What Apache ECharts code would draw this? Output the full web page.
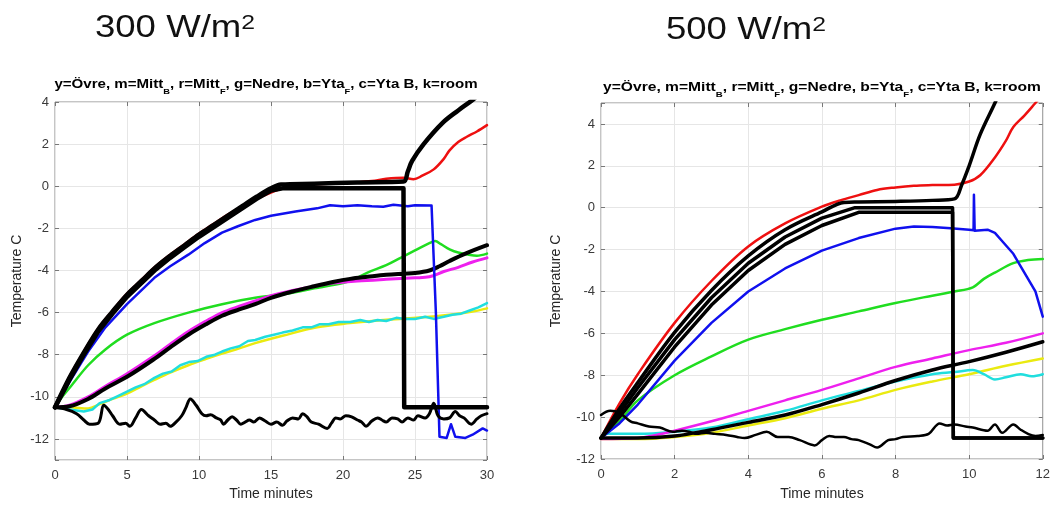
<!DOCTYPE html>
<html><head><meta charset="utf-8">
<script src="https://cdn.jsdelivr.net/npm/echarts@6/dist/echarts.min.js"></script>
<style>html,body{margin:0;padding:0;background:#fff;}#c{width:1053px;height:506px;}</style>
</head><body><div id="c"></div>
<script>
// ---------- tick / axis settings ----------
const L_xTicks = [0, 5, 10, 15, 20, 25, 30];
const L_yRange = [-13, 4];
const R_xTicks = [0, 2, 4, 6, 8, 10, 12];
const R_yRange = [-12, 5];

// ---------- LEFT: 300 W/m2 ----------
const L_yellow = [[0,-10.5],[1,-10.5],[2.3,-10.55],[3.1,-10.35],[4,-10.1],[5,-9.85],[6,-9.5],[6.9,-9.2],[8,-8.85],[9.26,-8.5],[10.5,-8.2],[11.6,-7.95],[12.8,-7.7],[13.9,-7.45],[15.8,-7.1],[18.2,-6.7],[20.5,-6.5],[22.8,-6.35],[25.1,-6.25],[27.4,-6.1],[29,-5.95],[30,-5.8]];
const L_cyan = [[0,-10.5],[1,-10.6],[2,-10.7],[2.6,-10.6],[3.1,-10.3],[3.8,-10.15],[4.4,-9.95],[5,-9.75],[5.6,-9.55],[6.2,-9.4],[6.9,-9.1],[7.5,-8.9],[8.1,-8.8],[8.7,-8.5],[9.3,-8.35],[9.9,-8.3],[10.5,-8.1],[11.1,-8.0],[11.6,-7.85],[12.2,-7.7],[12.8,-7.6],[13.4,-7.35],[13.9,-7.3],[14.6,-7.15],[15.2,-7.05],[15.8,-6.95],[16.5,-6.85],[17.2,-6.7],[17.8,-6.7],[18.4,-6.55],[19,-6.55],[19.7,-6.45],[20.5,-6.45],[21.2,-6.35],[21.8,-6.45],[22.4,-6.35],[23,-6.4],[23.7,-6.25],[24.3,-6.3],[25,-6.3],[25.7,-6.2],[26.3,-6.3],[27,-6.2],[27.6,-6.1],[28.2,-6.05],[28.8,-5.9],[29.4,-5.75],[30,-5.55]];
const L_green = [[0,-10.5],[0.5,-10.0],[1.16,-9.45],[2.3,-8.5],[3.5,-7.75],[5,-7.05],[6.9,-6.5],[9.26,-6.0],[11.6,-5.6],[13.9,-5.3],[16.2,-5.1],[18,-4.85],[20,-4.6],[20.7,-4.45],[21.7,-4.1],[23,-3.75],[24,-3.4],[25,-3.05],[26,-2.7],[26.4,-2.6],[26.8,-2.75],[27.4,-3.0],[28,-3.15],[29.3,-3.3],[30,-3.2]];
const L_magenta = [[0,-10.5],[1,-10.4],[2.3,-10.0],[3.5,-9.5],[5,-8.9],[6.9,-8.05],[8,-7.5],[9.26,-6.9],[10.5,-6.4],[11.6,-6.0],[12.8,-5.7],[13.9,-5.45],[15,-5.2],[16.5,-4.95],[18,-4.75],[19.3,-4.6],[21,-4.5],[23,-4.42],[25,-4.35],[26,-4.3],[27,-4.05],[28,-3.85],[29,-3.6],[30,-3.4]];
const L_blackLow = [[0,-10.5],[1,-10.45],[2.3,-10.1],[3.5,-9.6],[5,-9.05],[6.9,-8.2],[8,-7.65],[9.26,-7.05],[10.5,-6.55],[11.6,-6.15],[12.8,-5.85],[13.9,-5.6],[15,-5.3],[16.5,-5.0],[18,-4.75],[19.3,-4.55],[20.5,-4.4],[21.7,-4.3],[23,-4.2],[24.2,-4.15],[25,-4.12],[26,-4.0],[26.7,-3.8],[27.4,-3.55],[28.5,-3.2],[30,-2.8]];
const L_blue = [[0,-10.5],[1,-9.3],[2.3,-7.85],[3.5,-6.7],[5,-5.6],[6.9,-4.35],[8,-3.8],[9.26,-3.25],[10.4,-2.7],[11.6,-2.2],[12.7,-1.9],[13.9,-1.6],[15,-1.4],[16.7,-1.2],[18.2,-1.05],[19.1,-0.9],[20,-0.95],[21,-0.9],[22,-0.95],[22.8,-0.97],[23.5,-0.88],[24.5,-0.95],[25,-0.9],[26.15,-0.92],[26.45,-6],[26.7,-11.9],[27.2,-11.95],[27.5,-11.3],[27.8,-11.9],[28.5,-11.95],[29,-11.8],[29.7,-11.5],[30,-11.6]];
const L_red = [[0,-10.5],[1,-9.05],[2,-7.85],[3,-6.75],[4,-5.9],[5,-5.1],[6,-4.45],[7,-3.8],[8,-3.25],[9,-2.75],[10,-2.25],[11,-1.8],[12,-1.35],[13,-0.95],[14,-0.6],[15,-0.3],[16,-0.05],[17,0.05],[18,0.1],[20,0.15],[22,0.25],[23,0.35],[24.2,0.4],[24.9,0.33],[25.5,0.5],[26.3,0.8],[27,1.3],[27.4,1.7],[28,2.1],[28.6,2.35],[29.3,2.6],[30,2.9]];
const L_blackDrop = [[0,-10.5],[1,-9.2],[2,-8.0],[3,-6.9],[4,-6.05],[5,-5.25],[6,-4.6],[7,-3.95],[8,-3.4],[9,-2.9],[10,-2.4],[11,-1.95],[12,-1.5],[13,-1.05],[14,-0.6],[15,-0.2],[15.8,-0.1],[24.2,-0.1],[24.25,-10.5],[30,-10.5]];
const L_blackUp = [[0,-10.5],[1,-9.1],[2,-7.9],[3,-6.8],[4,-5.95],[5,-5.15],[6,-4.5],[7,-3.85],[8,-3.3],[9,-2.8],[10,-2.3],[11,-1.85],[12,-1.4],[13,-0.95],[14,-0.5],[15,-0.1],[15.7,0.08],[18,0.12],[21,0.18],[24.2,0.22],[24.5,0.7],[24.8,1.2],[25.6,2.0],[26.9,3.0],[28,3.6],[29,4.1],[29.5,4.4]];
const L_room = [[0,-10.5],[0.8,-10.6],[1.5,-10.8],[2.0,-11.1],[2.4,-11.3],[3.0,-11.25],[3.4,-10.4],[3.7,-10.6],[4.0,-10.9],[4.5,-11.3],[4.9,-11.25],[5.2,-11.4],[5.6,-11.0],[6.0,-10.6],[6.5,-10.9],[6.9,-11.1],[7.3,-11.3],[7.7,-11.25],[8,-11.4],[8.4,-11.2],[8.8,-10.9],[9.1,-10.5],[9.4,-10.1],[9.8,-10.4],[10.2,-10.8],[10.5,-10.9],[10.8,-10.85],[11.2,-11.0],[11.5,-11.1],[11.7,-11.3],[12.0,-11.1],[12.3,-10.95],[12.6,-11.1],[12.9,-11.3],[13.2,-11.2],[13.5,-11.1],[13.8,-11.2],[14.2,-11.0],[14.6,-11.15],[15,-11.3],[15.4,-11.2],[15.8,-11.35],[16.1,-11.15],[16.5,-11.0],[16.9,-11.05],[17.2,-10.8],[17.5,-10.95],[17.8,-11.2],[18.3,-11.3],[18.9,-11.5],[19.2,-11.25],[19.5,-11.0],[19.8,-11.05],[20.2,-10.9],[20.6,-10.95],[21,-11.1],[21.3,-11.2],[21.6,-11.4],[22,-11.15],[22.4,-11.0],[22.7,-11.1],[23,-11.2],[23.4,-11.0],[23.8,-11.05],[24.1,-11.2],[24.5,-11.0],[24.9,-11.1],[25.2,-10.9],[25.7,-11.0],[26.0,-10.8],[26.3,-10.3],[26.6,-10.9],[27.0,-11.05],[27.4,-11.0],[27.8,-10.7],[28.1,-10.9],[28.4,-11.0],[28.9,-11.3],[29.3,-11.05],[29.6,-10.9],[30,-10.8]];

// ---------- RIGHT: 500 W/m2 ----------
const R_yellow = [[0,-11.05],[1,-11.05],[2,-10.95],[3,-10.75],[4,-10.4],[5,-10.05],[6,-9.6],[7,-9.2],[8,-8.7],[9,-8.3],[10,-7.95],[11,-7.55],[12,-7.2]];
const R_cyan = [[0,-11],[0.15,-10.8],[1,-10.8],[2,-10.7],[3,-10.5],[4,-10.1],[5,-9.7],[6,-9.2],[7,-8.75],[8,-8.3],[9,-7.95],[9.6,-7.85],[10.1,-7.75],[10.4,-7.95],[10.7,-8.2],[11,-8.1],[11.4,-7.95],[11.7,-8.05],[12,-7.95]];
const R_green = [[0,-11],[0.5,-10.2],[1,-9.2],[2,-8.0],[3,-7.1],[4,-6.3],[5,-5.8],[6,-5.35],[7,-4.95],[8,-4.55],[9,-4.2],[9.6,-4.0],[10.1,-3.8],[10.4,-3.4],[10.7,-3.1],[11.2,-2.65],[11.6,-2.5],[12,-2.45]];
const R_magenta = [[0,-11.05],[1,-11.0],[1.5,-10.85],[2,-10.65],[3,-10.2],[4,-9.7],[5,-9.2],[6,-8.7],[7,-8.15],[8,-7.6],[9,-7.2],[10,-6.8],[11,-6.45],[12,-6.0]];
const R_blackLow = [[0,-11],[1,-11],[2,-10.9],[3,-10.6],[4,-10.25],[5,-9.9],[6,-9.4],[7,-8.85],[8,-8.25],[9,-7.75],[10,-7.35],[11,-6.9],[12,-6.4]];
const R_blue = [[0,-11],[0.5,-10.3],[1,-9.4],[2,-7.3],[3,-5.5],[4,-4.0],[5,-2.9],[6,-2.05],[7,-1.45],[8,-1.0],[8.5,-0.9],[9,-0.92],[9.5,-0.98],[10,-1.05],[10.12,-1.08],[10.13,0.62],[10.15,-1.1],[10.5,-1.05],[10.7,-1.2],[10.9,-1.6],[11.2,-2.2],[11.4,-2.8],[11.6,-3.4],[11.8,-4.0],[12,-5.2]];
const R_red = [[0,-11],[0.5,-9.35],[1,-7.95],[2,-5.5],[3,-3.5],[4,-1.85],[5,-0.75],[6,0.05],[6.5,0.35],[7,0.6],[7.5,0.85],[8,0.97],[8.5,1.05],[9,1.08],[9.6,1.1],[10,1.25],[10.3,1.55],[10.7,2.4],[11,3.2],[11.2,3.85],[11.5,4.4],[11.8,5.0],[12,5.4]];
const R_blackC = [[0,-11],[0.5,-10.0],[1,-8.9],[2,-6.65],[3,-4.65],[4,-3.0],[5,-1.75],[6,-0.85],[7,-0.22],[8,-0.22],[9.55,-0.22],[9.57,-11],[12,-11]];
const R_blackB = [[0,-11],[0.5,-9.8],[1,-8.6],[2,-6.3],[3,-4.3],[4,-2.65],[5,-1.4],[6,-0.5],[6.9,0.0],[8,0.0],[9.55,0.0],[9.57,-11],[12,-11]];
const R_blackA = [[0,-11],[0.5,-9.6],[1,-8.35],[2,-5.95],[3,-3.95],[4,-2.3],[5,-1.05],[6,-0.2],[6.6,0.25],[7,0.27],[8,0.3],[9,0.35],[9.6,0.42],[9.8,1.1],[10,2.0],[10.3,3.5],[10.7,5.0],[11,6.2]];
const R_room = [[0,-9.9],[0.25,-9.7],[0.5,-9.8],[0.8,-10.2],[1.0,-10.3],[1.3,-10.45],[1.6,-10.5],[1.95,-10.7],[2.2,-10.65],[2.4,-10.7],[2.6,-10.8],[2.85,-10.75],[3.1,-10.8],[3.4,-10.85],[3.7,-10.95],[3.9,-11.0],[4.2,-10.85],[4.5,-10.7],[4.8,-10.95],[5.1,-10.95],[5.4,-11.1],[5.8,-11.35],[6.0,-11.1],[6.2,-10.9],[6.4,-10.95],[6.6,-10.95],[6.8,-11.05],[7,-11.1],[7.3,-11.3],[7.5,-11.45],[7.8,-11.1],[8.0,-11.05],[8.2,-10.95],[8.6,-10.9],[8.9,-10.8],[9.2,-10.3],[9.4,-10.4],[9.6,-10.35],[9.9,-10.45],[10.1,-10.5],[10.5,-10.65],[10.7,-10.35],[10.9,-10.75],[11.2,-10.35],[11.4,-10.6],[11.6,-10.8],[11.8,-10.9],[12,-10.85]];

// ---------- texts ----------
const titleL = '300 W/m';
const titleR = '500 W/m';
const titleSup = '2';
const subTitleParts = ['y=Övre, m=Mitt', 'B', ', r=Mitt', 'F', ', g=Nedre, b=Yta', 'F', ', c=Yta B, k=room'];
const xName = 'Time minutes';
const yName = 'Temperature C';

const FONT = '"Liberation Sans", Arial, sans-serif';
const COL = {y:'#eaea10', c:'#20dede', g:'#20dd20', m:'#ee20ee', b:'#1010ee', r:'#ee1010', k:'#000000'};

function subRich(){
  let s = '';
  subTitleParts.forEach((p,i)=>{ s += (i%2===0 ? '{m|' : '{s|') + p + '}'; });
  return s;
}

function xAx(grid, ticks, top){
  return {
    type:'value', gridIndex:grid, min:ticks[0], max:ticks[ticks.length-1], interval:ticks[1]-ticks[0],
    position: top ? 'top' : 'bottom',
    name: top ? '' : xName, nameLocation:'middle', nameGap: grid===0 ? 27 : 28,
    nameTextStyle:{fontFamily:FONT, fontSize:14, color:'#262626'},
    axisLine:{show:false, onZero:false}, axisTick:{show:true, inside:true, length:4, lineStyle:{color:'#777'}},
    axisLabel:{show:!top, margin:9, fontFamily:FONT, fontSize:13, color:'#3a3a3a'},
    splitLine:{show:!top, lineStyle:{color:'#e6e6e6', width:1}}
  };
}
function yAx(grid, range, right){
  return {
    type:'value', gridIndex:grid, min:range[0], max:range[1], splitNumber:8,
    position: right ? 'right' : 'left',
    name: right ? '' : yName, nameLocation:'middle', nameGap: grid===0 ? 31 : 38, nameRotate:90,
    nameTextStyle:{fontFamily:FONT, fontSize:14, color:'#262626'},
    axisLine:{show:false, onZero:false}, axisTick:{show:true, inside:true, length:4, lineStyle:{color:'#777'}},
    axisLabel:{show:!right, margin:6, fontFamily:FONT, fontSize:13, color:'#3a3a3a',
      formatter: v => (Math.abs(v % 2) < 1e-9 ? String(v) : '')},
    splitLine:{show:!right, lineStyle:{color:'#e6e6e6', width:1}}
  };
}
function ln(data, color, width, xi, yi, smooth){
  return {type:'line', data, xAxisIndex:xi, yAxisIndex:yi, showSymbol:false, symbol:'none',
    smooth: smooth ? 0.35 : false, clip:true,
    lineStyle:{color, width, join:'round', cap:'round'}, emphasis:{disabled:true}, silent:true};
}
function titleText(x, y, txt){
  return {type:'text', x, y, scaleX:1.18, style:{text:'{n|'+txt+'}{p|'+titleSup+'}', align:'center', verticalAlign:'top',
    rich:{n:{fontFamily:FONT, fontSize:31, lineHeight:33, verticalAlign:'top', fill:'#111'},
          p:{fontFamily:FONT, fontSize:21, lineHeight:21, verticalAlign:'top', fill:'#111'}}}};
}
function subText(x, y, sx){
  return {type:'text', x, y, scaleX:sx, style:{text:subRich(), align:'center', verticalAlign:'top',
    rich:{m:{fontFamily:FONT, fontSize:13, fontWeight:'bold', lineHeight:14, verticalAlign:'top', fill:'#000'},
          s:{fontFamily:FONT, fontSize:8, fontWeight:'bold', lineHeight:8, verticalAlign:'top', padding:[10,0,0,0], fill:'#000'}}}};
}

const chart = echarts.init(document.getElementById('c'), null, {renderer:'canvas'});
chart.setOption({
  animation:false,
  backgroundColor:'#ffffff',
  grid:[
    {left:55, top:102, width:432, height:358, show:true, borderColor:'#8a8a8a', borderWidth:1, backgroundColor:'transparent'},
    {left:601, top:103, width:445, height:358, show:true, borderColor:'#8a8a8a', borderWidth:1, backgroundColor:'transparent'}
  ],
  xAxis:[xAx(0,L_xTicks,false), xAx(0,L_xTicks,true), xAx(1,R_xTicks,false), xAx(1,R_xTicks,true)],
  yAxis:[yAx(0,L_yRange,false), yAx(0,L_yRange,true), yAx(1,R_yRange,false), yAx(1,R_yRange,true)],
  graphic:[
    titleText(175, 13, titleL),
    titleText(746, 15, titleR),
    subText(266, 78, 1.16),
    subText(822, 81, 1.2)
  ],
  series:[
    ln(L_yellow, COL.y, 2.5, 0, 0, true),
    ln(L_cyan, COL.c, 2.5, 0, 0, false),
    ln(L_green, COL.g, 2.5, 0, 0, true),
    ln(L_magenta, COL.m, 3, 0, 0, true),
    ln(L_blackLow, COL.k, 4, 0, 0, true),
    ln(L_blue, COL.b, 2.5, 0, 0, false),
    ln(L_red, COL.r, 2.5, 0, 0, true),
    ln(L_blackDrop, COL.k, 4.5, 0, 0, false),
    ln(L_blackUp, COL.k, 4.5, 0, 0, true),
    ln(L_room, COL.k, 3, 0, 0, true),

    ln(R_yellow, COL.y, 2.5, 2, 2, true),
    ln(R_cyan, COL.c, 2.5, 2, 2, true),
    ln(R_green, COL.g, 2.5, 2, 2, true),
    ln(R_magenta, COL.m, 2.5, 2, 2, true),
    ln(R_blackLow, COL.k, 3.5, 2, 2, true),
    ln(R_blue, COL.b, 2.5, 2, 2, false),
    ln(R_red, COL.r, 2.5, 2, 2, true),
    ln(R_blackC, COL.k, 3.5, 2, 2, false),
    ln(R_blackB, COL.k, 3.5, 2, 2, false),
    ln(R_blackA, COL.k, 3.5, 2, 2, true),
    ln(R_room, COL.k, 2.5, 2, 2, true)
  ]
});
</script></body></html>
